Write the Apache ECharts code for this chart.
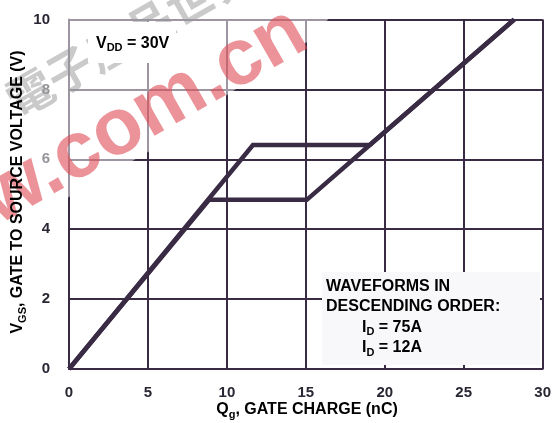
<!DOCTYPE html>
<html>
<head>
<meta charset="utf-8">
<script src="https://cdn.jsdelivr.net/npm/echarts@6/dist/echarts.min.js"></script>
<style>
  html, body { margin: 0; padding: 0; background: #fff; }
  #chart { width: 554px; height: 423px; }
</style>
</head>
<body>
<div id="chart"></div>
<script>
// gate charge curves (Qg in nC, VGS in V)
const qg75 = [0, 11.65, 19.05, 28.2];
const vgs75 = [0, 6.41, 6.41, 10];
const qg12 = [0, 8.87, 15.06, 19.05, 28.2];
const vgs12 = [0, 4.84, 4.84, 6.41, 10];
const xTicks = [0, 5, 10, 15, 20, 25, 30];
const yTicks = [0, 2, 4, 6, 8, 10];

const ink = '#3a2b45';
const txt = '#2b2633';
const font = '"Liberation Sans", Arial, sans-serif';

function pairs(xs, ys) {
  return xs.map((x, i) => [x, ys[i]]);
}

const chart = echarts.init(document.getElementById('chart'));

const main = { fontSize: 16, fontWeight: 'bold', color: txt, fontFamily: font, lineHeight: 20.5 };
const sub = { fontSize: 11, fontWeight: 'bold', color: txt, fontFamily: font, verticalAlign: 'bottom', padding: [8, 0, 0, 0], lineHeight: 20.5 };

chart.setOption({
  animation: false,
  grid: { left: 69, right: 11, top: 19.5, bottom: 54 },
  xAxis: {
    type: 'value',
    min: xTicks[0], max: xTicks[xTicks.length - 1], interval: 5,
    axisLine: { lineStyle: { color: ink, width: 2 } },
    axisTick: { show: false },
    splitLine: { lineStyle: { color: ink, width: 2 } },
    axisLabel: { color: txt, fontSize: 15, fontWeight: 'bold', fontFamily: font, margin: 16 }
  },
  yAxis: {
    type: 'value',
    min: yTicks[0], max: yTicks[yTicks.length - 1], interval: 2,
    axisLine: { show: true, lineStyle: { color: ink, width: 2 } },
    axisTick: { show: false },
    splitLine: { lineStyle: { color: ink, width: 2 } },
    axisLabel: { color: txt, fontSize: 15, fontWeight: 'bold', fontFamily: font, margin: 19 }
  },
  series: [
    {
      name: 'ID = 75A', type: 'line', data: pairs(qg75, vgs75),
      symbol: 'none', z: 3,
      lineStyle: { color: ink, width: 4.5, join: 'miter' }
    },
    {
      name: 'ID = 12A', type: 'line', data: pairs(qg12, vgs12),
      symbol: 'none', z: 3,
      lineStyle: { color: ink, width: 4.5, join: 'miter' }
    }
  ],
  graphic: [
    // watermark: pale band, grey characters, red url
    {
      type: 'polygon', z: 1, silent: true,
      shape: { points: [[0, 55], [90, 0], [345, 0], [310, 40], [227, 95], [148, 152], [69, 197], [0, 245]] },
      style: { fill: 'rgba(255,255,255,0.5)' }
    },
    {
      type: 'text', z: 2, silent: true, rotation: 0.52,
      x: 10, y: 104,
      style: { text: '電子產品世界', font: 'bold 46px "Noto Sans CJK TC"', fill: 'rgba(150,150,150,0.5)', textVerticalAlign: 'middle' }
    },
    {
      type: 'text', z: 2, silent: true, rotation: 0.52,
      x: 7, y: 241,
      style: { text: 'w.com.cn', font: 'bold 80px "Liberation Sans"', fill: 'rgba(222,75,85,0.6)', textVerticalAlign: 'bottom' }
    },
    // VDD label
    {
      type: 'rect', z: 5, shape: { x: 88, y: 22, width: 88, height: 41 },
      style: { fill: '#ffffff' }
    },
    {
      type: 'text', z: 6, x: 96, y: 33,
      style: {
        text: '{m|V}{s|DD}{m| = 30V}',
        rich: { m: main, s: sub }
      }
    },
    // legend box
    {
      type: 'rect', z: 5, shape: { x: 322, y: 272, width: 218, height: 93 },
      style: { fill: '#f8f8fa' }
    },
    {
      type: 'text', z: 6, x: 326, y: 276,
      style: {
        text: '{m|WAVEFORMS IN}\n{m|DESCENDING ORDER:}\n{i|I}{s|D}{m| = 75A}\n{i|I}{s|D}{m| = 12A}',
        rich: {
          m: main,
          i: Object.assign({}, main, { padding: [0, 0, 0, 36] }),
          s: sub
        }
      }
    },
    // x axis name
    {
      type: 'text', z: 6, x: 307, y: 410,
      style: {
        text: '{m|Q}{s|g}{m|, GATE CHARGE (nC)}',
        align: 'center', verticalAlign: 'middle',
        rich: { m: main, s: sub }
      }
    },
    // y axis name
    {
      type: 'text', z: 6, x: 18, y: 192, rotation: Math.PI / 2,
      style: {
        text: '{m|V}{s|GS}{m|, GATE TO SOURCE VOLTAGE (V)}',
        align: 'center', verticalAlign: 'middle',
        rich: { m: main, s: sub }
      }
    }
  ]
});
</script>
</body>
</html>
